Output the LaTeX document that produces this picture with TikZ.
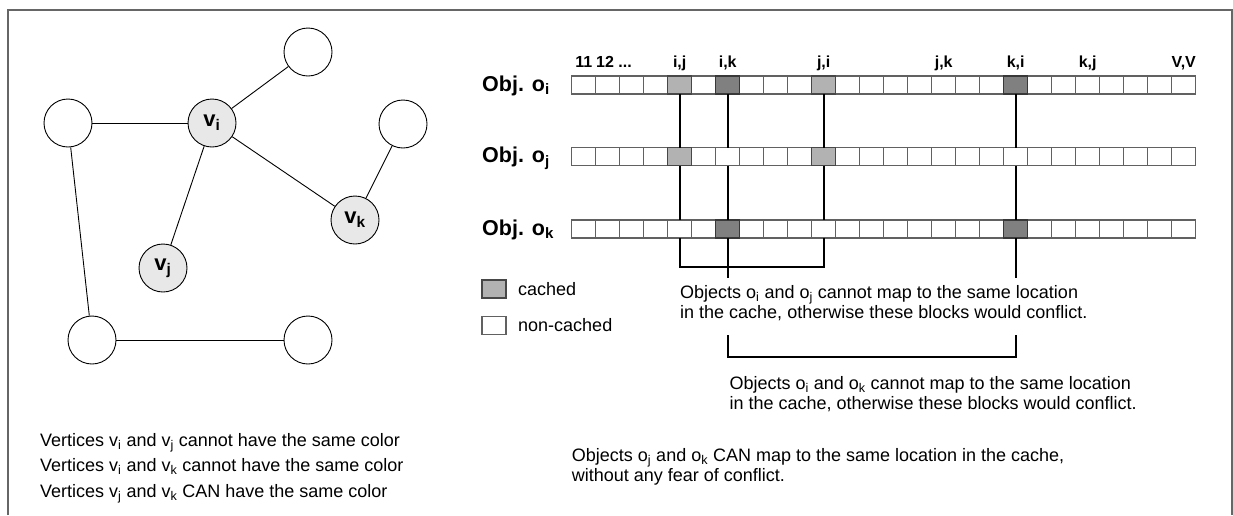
\documentclass[tikz,border=0pt]{standalone}
\usepackage{fontspec}
\setmainfont{Liberation Sans}
\newcommand\sbx[1]{\textsubscript{#1}}
\begin{document}
\begin{tikzpicture}[x=1pt,y=-1pt,
  vtx/.style={circle,draw,line width=0.9pt,minimum size=48pt,inner sep=0pt},
  hot/.style={vtx,fill=black!9,font=\fontsize{22}{24}\selectfont\bfseries},
  edge/.style={line width=0.9pt},
  cell/.style={rectangle,draw=black!62,line width=1.1pt,minimum width=24pt,minimum height=18pt,inner sep=0pt,outer sep=0pt},
  light/.style={cell,fill=black!30,draw=black!72},
  dark/.style={cell,fill=black!50,draw=black!78},
  link/.style={line width=2pt,black},
  body/.style={font=\fontsize{18}{21}\selectfont,inner sep=0pt,anchor=base west},
  objlab/.style={font=\fontsize{21.5}{24}\selectfont\bfseries,inner sep=0pt,anchor=base west},
  collab/.style={font=\fontsize{16}{18}\selectfont\bfseries,inner sep=0pt,anchor=base},
  frame/.style={draw=black!60,line width=1.5pt}
]
\useasboundingbox (0,0) rectangle (1233,515);
\draw[frame] (8,515) -- (8,10) -- (1232,10) -- (1232,515);

% graph
\node[vtx] (top) at (308,52) {};
\node[vtx] (left) at (68,123) {};
\node[hot] (vi) at (212,123) {v\sbx{i}};
\node[vtx] (right) at (403,124) {};
\node[hot] (vk) at (355,220) {v\sbx{k}};
\node[hot] (vj) at (163,268) {v\sbx{j}};
\node[vtx] (bl) at (92,340) {};
\node[vtx] (br) at (308,340) {};
\draw[edge] (top) -- (vi);
\draw[edge] (left) -- (vi);
\draw[edge] (vi) -- (vj);
\draw[edge] (vi) -- (vk);
\draw[edge] (right) -- (vk);
\draw[edge] (left) -- (bl);
\draw[edge] (bl) -- (br);

\node[body] (g1) at (40,446) {Vertices v\sbx{i} and v\sbx{j} cannot have the same color};
\node[body] (g2) at (40,471.5) {Vertices v\sbx{i} and v\sbx{k} cannot have the same color};
\node[body] (g3) at (40,497) {Vertices v\sbx{j} and v\sbx{k} CAN have the same color};

% object rows
\node[objlab] (oi) at (482,91) {Obj. o\sbx{i}};
\node[objlab] (oj) at (482,162.5) {Obj. o\sbx{j}};
\node[objlab] (ok) at (482,235) {Obj. o\sbx{k}};

\foreach \r/\y in {1/85,2/156.5,3/229}{
  \foreach \c in {0,...,25}{
    \node[cell] (c\r-\c) at ({583.7+24*\c},\y) {};
  }
}
\node[light] (s1-4) at (c1-4) {};
\node[light] (s1-10) at (c1-10) {};
\node[light] (s2-4) at (c2-4) {};
\node[light] (s2-10) at (c2-10) {};
\node[dark] (s1-6) at (c1-6) {};
\node[dark] (s1-18) at (c1-18) {};
\node[dark] (s3-6) at (c3-6) {};
\node[dark] (s3-18) at (c3-18) {};

% column labels
\node[collab] (l11) at (583.7,67) {11};
\node[collab,anchor=base west] (l12) at (596,67) {12 ...};
\node[collab] (lij) at (679.7,67) {i,j};
\node[collab] (lik) at (727.7,67) {i,k};
\node[collab] (lji) at (823.7,67) {j,i};
\node[collab] (ljk) at (943.7,67) {j,k};
\node[collab] (lki) at (1015.7,67) {k,i};
\node[collab] (lkj) at (1087.7,67) {k,j};
\node[collab] (lvv) at (1183.7,67) {V,V};

% connectors
\foreach \c in {4,6,10,18}{
  \draw[link] (c1-\c.south) -- (c2-\c.north);
  \draw[link] (c2-\c.south) -- (c3-\c.north);
}
\coordinate (e6) at (c3-6.south |- 0,278);
\coordinate (e18) at (c3-18.south |- 0,278);
\coordinate (b1) at (c3-4.south |- 0,267);
\draw[link] (c3-4.south) -- (b1) -| (c3-10.south);
\draw[link] (c3-6.south) -- (e6);
\draw[link] (c3-18.south) -- (e18);
\coordinate (b2l) at (c3-6.south |- 0,335);
\coordinate (b2m) at (c3-18.south |- 0,357);
\coordinate (b2r) at (c3-18.south |- 0,335);
\draw[link] (b2l) |- (b2m) -- (b2r);

% legend
\node[light] (lgc) at (494,289) {};
\node[cell] (lgn) at (494,325.5) {};
\node[body] (tc) at (518,295.5) {cached};
\node[body] (tn) at (518,331.5) {non-cached};

% texts
\node[body] (t1a) at (680,298.5) {Objects o\sbx{i} and o\sbx{j} cannot map to the same location};
\node[body] (t1b) at (680,318) {in the cache, otherwise these blocks would conflict.};
\node[body] (t2a) at (729.3,389.5) {Objects o\sbx{i} and o\sbx{k} cannot map to the same location};
\node[body] (t2b) at (729.3,409) {in the cache, otherwise these blocks would conflict.};
\node[body] (t3a) at (571.7,461.5) {Objects o\sbx{j} and o\sbx{k} CAN map to the same location in the cache,};
\node[body] (t3b) at (571.7,481) {without any fear of conflict.};
\end{tikzpicture}
\end{document}
